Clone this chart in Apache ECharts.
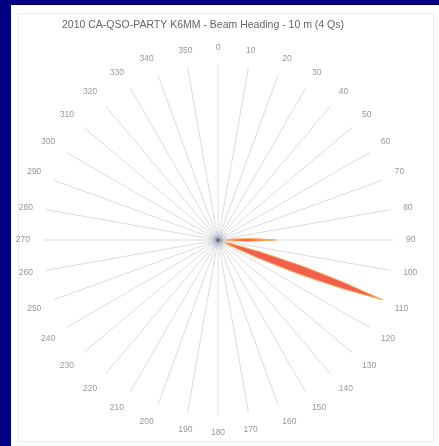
<!DOCTYPE html>
<html>
<head>
<meta charset="utf-8">
<script src="https://cdn.jsdelivr.net/npm/echarts@6/dist/echarts.min.js"></script>
<style>
html,body{margin:0;padding:0;background:#000080;width:439px;height:446px;overflow:hidden;}
#panel{position:absolute;left:11px;top:5px;width:428px;height:441px;background:#fff;}
#frame{position:absolute;left:18px;top:13px;width:416px;height:429px;border:1px solid #ececec;box-sizing:border-box;}
#chart{position:absolute;left:0;top:0;width:439px;height:446px;}
</style>
</head>
<body>
<div id="panel"></div>
<div id="frame"></div>
<div id="chart"></div>
<script>
const titleText = '2010 CA-QSO-PARTY K6MM - Beam Heading - 10 m (4 Qs)';
const headings = ['0','10','20','30','40','50','60','70','80','90','100','110','120','130','140','150','160','170',
  '180','190','200','210','220','230','240','250','260','270','280','290','300','310','320','330','340','350'];
const qsos = [0,0,0,0,0,0,0,0,0,1,0,3,0,0,0,0,0,0,0,0,0,0,0,0,0,0,0,0,0,0,0,0,0,0,0,0];

const chart = echarts.init(document.getElementById('chart'));

function leaf(params, api) {
  const v = api.value(0);
  const idx = api.value(1);
  if (!v) return null;
  const c = api.coord([0, idx]);
  const t = api.coord([v, idx]);
  const dx = t[0] - c[0], dy = t[1] - c[1];
  const len = Math.sqrt(dx * dx + dy * dy);
  const nx = -dy / len, ny = dx / len;
  const w = len * 0.05;
  const mx = (c[0] + t[0]) / 2, my = (c[1] + t[1]) / 2;
  const p = 'M' + c[0] + ' ' + c[1] +
    ' Q' + (mx + nx * w) + ' ' + (my + ny * w) + ' ' + t[0] + ' ' + t[1] +
    ' Q' + (mx - nx * w) + ' ' + (my - ny * w) + ' ' + c[0] + ' ' + c[1] + ' Z';
  return {
    type: 'path',
    shape: {pathData: p},
    style: {fill: '#f35f4e', stroke: '#f8b05a', lineWidth: 1}
  };
}

chart.setOption({
  animation: false,
  title: {
    text: titleText, left: 57, top: 15,
    textStyle: {fontFamily: 'Liberation Sans, Arial, sans-serif', fontSize: 10.5, fontWeight: 'normal', color: '#666'}
  },
  polar: {center: [218, 240], radius: 175},
  angleAxis: {
    type: 'category', data: headings, startAngle: 90, clockwise: true, boundaryGap: false,
    axisLine: {show: false}, axisTick: {show: false},
    splitLine: {show: true, lineStyle: {color: '#dcdcdc', width: 1}},
    axisLabel: {color: '#999', fontSize: 8.5, margin: 13, fontFamily: 'Liberation Sans, Arial, sans-serif'}
  },
  radiusAxis: {
    type: 'value', min: 0, max: 3,
    axisLine: {show: false}, axisTick: {show: false}, axisLabel: {show: false}, splitLine: {show: false}
  },
  series: [{
    type: 'line', coordinateSystem: 'polar', silent: true,
    data: qsos.map(v => ({value: v, symbol: v === 0 ? 'circle' : 'none'})),
    symbolSize: 22,
    lineStyle: {opacity: 0},
    itemStyle: {
      color: {type: 'radial', x: 0.5, y: 0.5, r: 0.5, colorStops: [
        {offset: 0, color: 'rgba(70,70,70,0.07)'},
        {offset: 0.25, color: 'rgba(150,160,175,0.05)'},
        {offset: 0.6, color: 'rgba(205,215,232,0.035)'},
        {offset: 1, color: 'rgba(225,232,242,0)'}
      ]}
    }
  }, {
    type: 'custom', coordinateSystem: 'polar',
    data: qsos.map((v, i) => [v, i]),
    encode: {radius: 0, angle: 1},
    renderItem: leaf
  }]
});
</script>
</body>
</html>
